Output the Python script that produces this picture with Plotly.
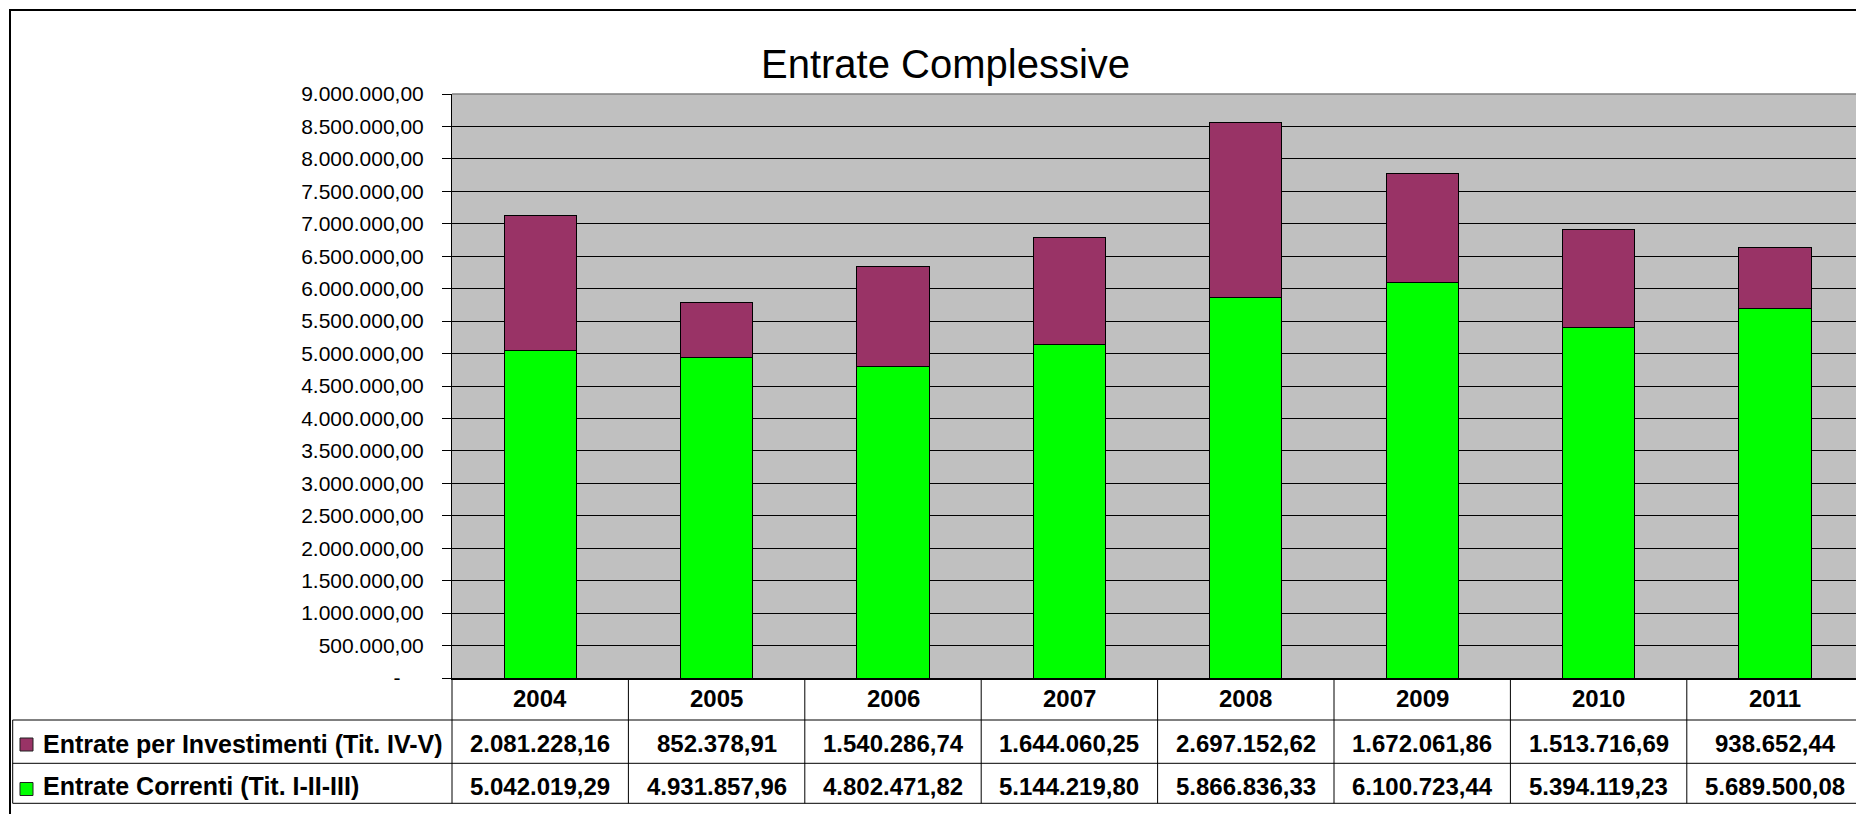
import plotly.graph_objects as go

# ---------------- data ----------------
years = ["2004", "2005", "2006", "2007", "2008", "2009", "2010", "2011"]
investimenti = [2081228.16, 852378.91, 1540286.74, 1644060.25,
                2697152.62, 1672061.86, 1513716.69, 938652.44]
correnti = [5042019.29, 4931857.96, 4802471.82, 5144219.80,
            5866836.33, 6100723.44, 5394119.23, 5689500.08]
series_names = ["Entrate per Investimenti (Tit. IV-V)",
                "Entrate Correnti (Tit. I-II-III)"]
chart_title = "Entrate Complessive"
y_tick_values = list(range(0, 9000001, 500000))

# ---------------- layout geometry ----------------
W, H = 1856, 814
ML, MT, MB = 452, 94, 136
PW = W - ML
PH = H - MT - MB
CAT_W = 176.4
FONT = "Arial, Liberation Sans, sans-serif"
PURPLE = "#993366"
GREEN = "#00FF00"

xnum = [int(y) for y in years]
x_start = xnum[0] - 0.5


def fmt(v):
    s = f"{v:,.2f}"
    return s.replace(",", "X").replace(".", ",").replace("X", ".")


def px_x(x):
    return (x - ML) / PW


def px_y(y):
    return (H - MB - y) / PH


y_tick_text = [fmt(v) if v > 0 else "-" + "\u00a0" * 4 for v in y_tick_values]

fig = go.Figure()
fig.add_trace(go.Bar(x=xnum, y=correnti, name=series_names[1], width=0.41,
                     marker=dict(color=GREEN, line=dict(color="black", width=1))))
fig.add_trace(go.Bar(x=xnum, y=investimenti, name=series_names[0], width=0.41,
                     marker=dict(color=PURPLE, line=dict(color="black", width=1))))

shapes = []
# outer chart border
shapes.append(dict(type="rect", xref="paper", yref="paper",
                   x0=px_x(10), x1=px_x(W + 20), y0=px_y(10), y1=px_y(H + 20),
                   line=dict(color="black", width=2), fillcolor="rgba(0,0,0,0)", layer="above"))
# plot area top border (gray)
shapes.append(dict(type="line", xref="paper", yref="paper", x0=0, x1=1.01, y0=1, y1=1,
                   line=dict(color="#808080", width=1.5)))
# table horizontal lines
row_lines = [720, 763.3, 803.3]
for yy in row_lines:
    shapes.append(dict(type="line", xref="paper", yref="paper",
                       x0=px_x(12.7), x1=1.01, y0=px_y(yy), y1=px_y(yy),
                       line=dict(color="black", width=1)))
# table left border
shapes.append(dict(type="line", xref="paper", yref="paper",
                   x0=px_x(12.7), x1=px_x(12.7), y0=px_y(720), y1=px_y(803.3),
                   line=dict(color="black", width=1)))
# table vertical lines at category boundaries
shapes.append(dict(type="line", xref="paper", yref="paper", x0=0, x1=0,
                   y0=0, y1=px_y(803.3), line=dict(color="black", width=1)))
for xv in xnum:
    shapes.append(dict(type="line", xref="x", yref="paper", x0=xv + 0.5, x1=xv + 0.5,
                       y0=0, y1=px_y(803.3), line=dict(color="black", width=1)))
# legend keys
key_rows = [(738, 751, PURPLE), (782.5, 795.5, GREEN)]
for y0, y1, col in key_rows:
    shapes.append(dict(type="rect", xref="paper", yref="paper",
                       x0=px_x(20), x1=px_x(33), y0=px_y(y1), y1=px_y(y0),
                       fillcolor=col, line=dict(color="#202020", width=1)))

annotations = []
annotations.append(dict(text=chart_title, xref="paper", yref="paper",
                        x=px_x(945), y=px_y(64), xanchor="center", yanchor="middle",
                        showarrow=False, font=dict(family=FONT, size=40, color="black")))
bold = dict(family=FONT, size=24, color="black", weight="bold")
bold_leg = dict(family=FONT, size=25, color="black", weight="bold")
row_y = [698, 743.5, 786]
for i, yr in enumerate(years):
    annotations.append(dict(text=yr, xref="x", yref="paper", x=xnum[i], y=px_y(row_y[0]),
                            xanchor="center", yanchor="middle", showarrow=False, font=bold))
    annotations.append(dict(text=fmt(investimenti[i]), xref="x", yref="paper", x=xnum[i],
                            y=px_y(row_y[1]), xanchor="center", yanchor="middle",
                            showarrow=False, font=bold))
    annotations.append(dict(text=fmt(correnti[i]), xref="x", yref="paper", x=xnum[i],
                            y=px_y(row_y[2]), xanchor="center", yanchor="middle",
                            showarrow=False, font=bold))
for name, yy in zip(series_names, row_y[1:]):
    annotations.append(dict(text=name, xref="paper", yref="paper", x=px_x(41), y=px_y(yy),
                            xanchor="left", yanchor="middle", showarrow=False, font=bold_leg))

fig.update_layout(
    width=W, height=H, autosize=False,
    margin=dict(l=ML, r=0, t=MT, b=MB, pad=0),
    paper_bgcolor="white", plot_bgcolor="#C0C0C0",
    barmode="stack", showlegend=False,
    font=dict(family=FONT, color="black"),
    shapes=shapes, annotations=annotations,
    xaxis=dict(type="linear", range=[x_start, x_start + PW / CAT_W],
               showticklabels=False, ticks="", showgrid=False, zeroline=False,
               showline=True, linecolor="black", linewidth=2, fixedrange=True),
    yaxis=dict(range=[0, 9000000], tickmode="array", tickvals=y_tick_values,
               ticktext=y_tick_text, ticks="outside", ticklen=9, tickwidth=1,
               tickcolor="black", showgrid=True, gridcolor="black", gridwidth=1,
               zeroline=False, showline=True, linecolor="black", linewidth=1,
               tickfont=dict(family=FONT, size=21, color="black"),
               ticklabelstandoff=14, fixedrange=True),
)

fig.write_html("out.html", config={"displayModeBar": False},
               post_script="document.body.style.margin='0';document.body.style.overflow='hidden';")
